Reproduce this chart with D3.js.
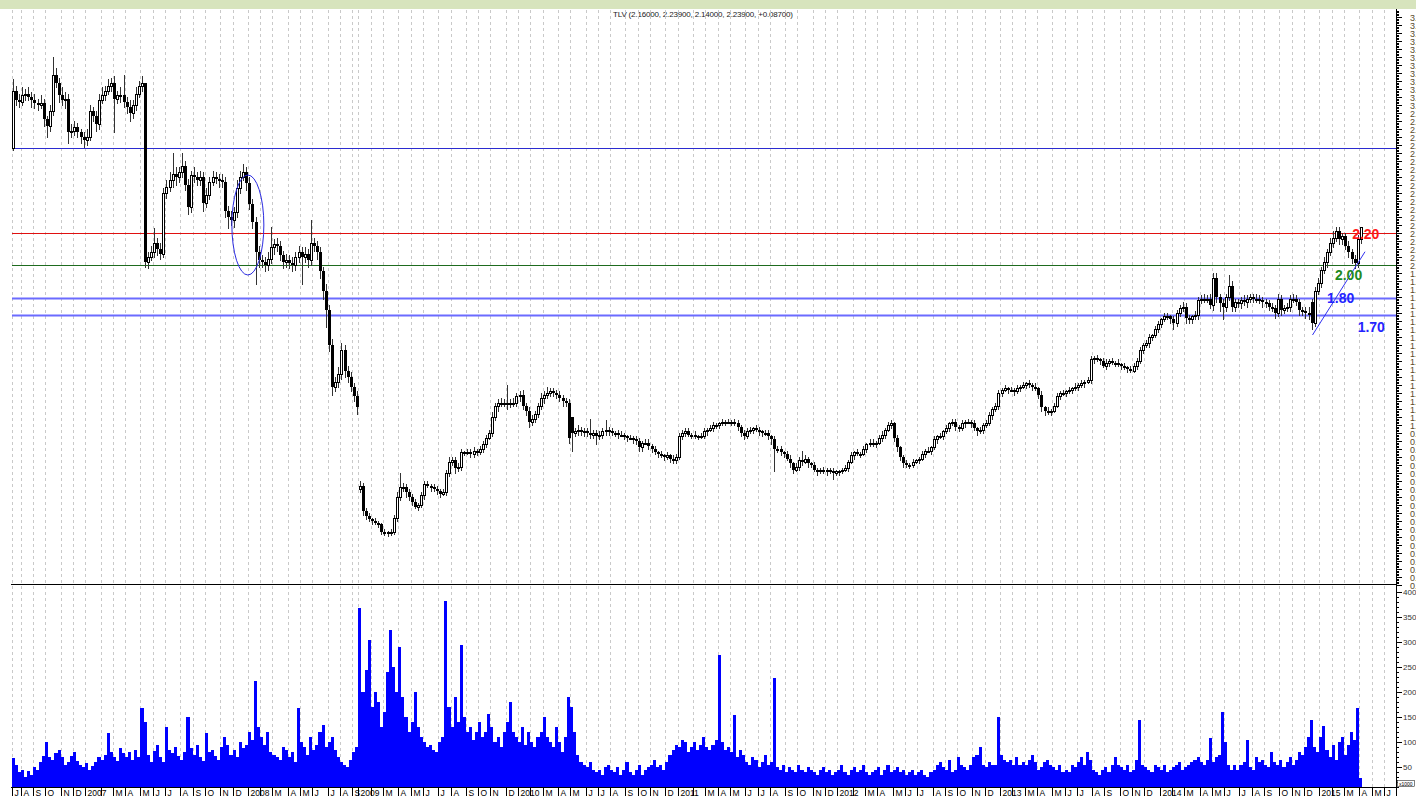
<!DOCTYPE html>
<html>
<head>
<meta charset="utf-8">
<script src="https://cdn.jsdelivr.net/npm/d3@7"></script>
<style>
  body { margin: 0; background: #fff; }
  svg { display: block; font-family: "Liberation Sans", Arial, sans-serif; }
</style>
</head>
<body>
<svg id="chart" width="1416" height="796"></svg>
<script>
// weekly bars, Mondays; trading stopped Sep 2008 - Jan 2009
const firstRun = [new Date(2006, 6, 17), new Date(2008, 8, 9)];
const secondRun = [new Date(2009, 0, 5), new Date(2015, 3, 7)];
const futureRun = [new Date(2015, 3, 13), new Date(2015, 5, 9)];
const monthLetters = ["J", "F", "M", "A", "M", "J", "J", "A", "S", "O", "N", "D"];

// weekly closes
const closes = [
  3.09, 3.03, 3.02, 3.06, 3.07, 3.05, 3.03, 3.01, 3.00, 3.01,
  2.91, 2.87, 2.96, 3.19, 3.14, 3.06, 3.03, 3.04, 2.83, 2.84,
  2.86, 2.83, 2.80, 2.78, 2.80, 2.96, 2.93, 2.88, 3.03, 3.06,
  3.09, 3.12, 3.14, 3.04, 3.06, 3.06, 3.02, 2.99, 2.95, 3.00,
  3.07, 3.12, 3.14, 2.02, 2.05, 2.08, 2.14, 2.10, 2.07, 2.45,
  2.49, 2.53, 2.57, 2.55, 2.58, 2.62, 2.50, 2.36, 2.56, 2.55,
  2.53, 2.55, 2.39, 2.44, 2.52, 2.55, 2.54, 2.53, 2.52, 2.34,
  2.30, 2.28, 2.33, 2.48, 2.55, 2.58, 2.51, 2.38, 2.27, 2.08,
  2.03, 2.02, 2.00, 2.04, 2.11, 2.13, 2.12, 2.06, 2.02, 2.03,
  2.01, 2.00, 2.05, 2.08, 2.05, 2.07, 2.03, 2.14, 2.12, 2.08,
  1.96, 1.84, 1.72, 1.50, 1.24, 1.27, 1.32, 1.47, 1.34, 1.30,
  1.24, 1.18, 1.11, 0.62, 0.46, 0.43, 0.41, 0.40, 0.39, 0.38,
  0.33, 0.33, 0.325, 0.33, 0.42, 0.55, 0.61, 0.61, 0.58, 0.55,
  0.52, 0.49, 0.50, 0.56, 0.63, 0.62, 0.61, 0.60, 0.59, 0.57,
  0.58, 0.70, 0.77, 0.78, 0.73, 0.74, 0.83, 0.83, 0.83, 0.82,
  0.84, 0.83, 0.85, 0.88, 0.92, 0.95, 1.05, 1.12, 1.14, 1.14,
  1.14, 1.13, 1.14, 1.14, 1.18, 1.19, 1.12, 1.09, 1.02, 1.04,
  1.07, 1.12, 1.17, 1.19, 1.20, 1.21, 1.20, 1.19, 1.17, 1.15,
  1.14, 0.92, 0.95, 0.96, 0.97, 0.96, 0.96, 0.95, 0.94, 0.95,
  0.93, 0.94, 0.96, 0.97, 0.96, 0.95, 0.95, 0.94, 0.94, 0.93,
  0.92, 0.92, 0.91, 0.90, 0.86, 0.89, 0.89, 0.87, 0.85, 0.83,
  0.82, 0.81, 0.80, 0.81, 0.79, 0.78, 0.80, 0.93, 0.95, 0.96,
  0.94, 0.94, 0.93, 0.93, 0.93, 0.96, 0.97, 0.98, 1.00, 1.00,
  1.01, 1.02, 1.02, 1.02, 1.02, 1.01, 0.99, 0.95, 0.93, 0.96,
  0.97, 0.98, 0.97, 0.96, 0.95, 0.95, 0.93, 0.91, 0.85, 0.85,
  0.83, 0.82, 0.79, 0.76, 0.72, 0.74, 0.78, 0.77, 0.79, 0.76,
  0.75, 0.72, 0.71, 0.72, 0.71, 0.72, 0.71, 0.70, 0.71, 0.71,
  0.72, 0.73, 0.77, 0.81, 0.83, 0.82, 0.82, 0.85, 0.88, 0.89,
  0.88, 0.89, 0.92, 0.94, 0.97, 1.00, 1.01, 0.92, 0.86, 0.80,
  0.76, 0.75, 0.75, 0.77, 0.78, 0.79, 0.82, 0.84, 0.84, 0.86,
  0.91, 0.93, 0.93, 0.96, 0.98, 1.01, 1.02, 0.99, 0.98, 1.01,
  1.02, 1.02, 1.01, 0.98, 0.96, 0.97, 1.00, 1.01, 1.06, 1.10,
  1.12, 1.20, 1.22, 1.23, 1.22, 1.22, 1.21, 1.23, 1.24, 1.25,
  1.26, 1.25, 1.24, 1.23, 1.19, 1.11, 1.09, 1.08, 1.09, 1.12,
  1.18, 1.20, 1.20, 1.21, 1.22, 1.23, 1.24, 1.25, 1.26, 1.27,
  1.28, 1.41, 1.42, 1.41, 1.40, 1.37, 1.39, 1.40, 1.39, 1.39,
  1.38, 1.37, 1.36, 1.35, 1.34, 1.37, 1.40, 1.47, 1.50, 1.51,
  1.55, 1.56, 1.60, 1.63, 1.66, 1.68, 1.68, 1.66, 1.64, 1.70,
  1.73, 1.74, 1.67, 1.66, 1.68, 1.69, 1.78, 1.79, 1.79, 1.79,
  1.75, 1.92, 1.80, 1.76, 1.74, 1.80, 1.87, 1.74, 1.77, 1.76,
  1.78, 1.77, 1.79, 1.80, 1.79, 1.79, 1.78, 1.77, 1.76, 1.74,
  1.73, 1.70, 1.79, 1.72, 1.73, 1.74, 1.79, 1.79, 1.77, 1.72,
  1.71, 1.70, 1.69, 1.64, 1.84, 1.89, 1.97, 2.02, 2.08, 2.14,
  2.17, 2.21, 2.16, 2.18, 2.12, 2.08, 2.04, 2.01, 2.16, 2.239
];

// opens that differ from the previous close (gaps)
const gapOpens = [[0, 2.73], [43, 3.14], [113, 0.60], [182, 1.05], [423, 1.77]];

// wick above the body, in cents
const upperWick = [
  7, 3, 4, 5, 3, 4, 3, 4, 3, 5,   3, 2, 4, 11, 4, 3, 5, 4, 3, 4,
  4, 3, 2, 3, 5, 4, 3, 3, 4, 5,   3, 4, 3, 4, 3, 5, 13, 3, 4, 3,
  4, 3, 4, 0, 3, 4, 9, 3, 4, 3,   4, 5, 13, 4, 3, 8, 3, 4, 3, 5,
  3, 4, 3, 4, 3, 4, 3, 3, 4, 3,   3, 4, 3, 5, 4, 5, 3, 4, 3, 3,
  4, 3, 3, 4, 13, 3, 4, 3, 3, 4,  3, 4, 3, 4, 3, 4, 3, 14, 3, 3,
  3, 3, 4, 3, 4, 3, 4, 4, 3, 3,   3, 2, 3, 3, 2, 2, 2, 1, 2, 1,
  1, 2, 1, 2, 2, 3, 9, 3, 2, 2,   2, 2, 1, 2, 2, 2, 1, 2, 2, 1,
  2, 2, 3, 2, 2, 2, 2, 1, 2, 2,   2, 1, 2, 2, 2, 2, 3, 2, 2, 3,
  2, 11, 2, 3, 2, 2, 3, 2, 2, 2,  2, 2, 3, 2, 4, 2, 2, 2, 2, 2,
  2, 2, 0, 2, 3, 2, 2, 2, 9, 2,   2, 2, 2, 6, 2, 2, 1, 2, 2, 1,
  1, 2, 1, 2, 2, 1, 2, 2, 1, 2,   1, 2, 1, 2, 1, 2, 2, 2, 2, 2,
  2, 1, 2, 1, 2, 2, 1, 2, 2, 1,   1, 2, 1, 2, 1, 2, 2, 1, 2, 2,
  2, 1, 2, 2, 1, 2, 2, 1, 2, 2,   2, 1, 2, 2, 1, 2, 2, 6, 2, 1,
  1, 2, 1, 1, 2, 1, 1, 2, 1, 1,   1, 2, 1, 2, 1, 2, 1, 2, 1, 2,
  2, 1, 2, 2, 1, 2, 2, 1, 2, 1,   1, 2, 1, 2, 1, 1, 2, 1, 2, 1,
  2, 1, 2, 1, 2, 1, 2, 2, 1, 2,   1, 2, 1, 2, 1, 2, 1, 2, 2, 1,
  2, 2, 1, 2, 1, 2, 1, 2, 1, 2,   1, 2, 1, 2, 1, 2, 1, 2, 1, 2,
  2, 1, 2, 1, 2, 1, 2, 1, 2, 1,   2, 2, 1, 2, 1, 2, 2, 1, 2, 1,
  2, 1, 2, 1, 2, 2, 2, 2, 1, 2,   2, 1, 2, 2, 1, 2, 2, 1, 2, 2,
  2, 3, 2, 2, 1, 2, 2, 2, 3, 2,   3, 3, 3, 2, 3, 2, 7, 3, 2, 2,
  2, 3, 2, 2, 2, 3, 2, 2, 2, 2,   2, 2, 3, 2, 2, 2, 2, 3, 2, 2,
  2, 3, 4, 2, 2, 3, 2, 3, 2, 3,   4, 3, 3, 2, 2, 3, 2, 2, 3, 0
];

// wick below the body, in cents
const lowerWick = [
  1, 3, 3, 2, 3, 2, 4, 3, 3, 2,   4, 7, 3, 2, 3, 4, 3, 5, 7, 3,
  3, 3, 4, 4, 3, 2, 3, 4, 3, 2,   3, 2, 3, 21, 3, 4, 3, 4, 5, 3,
  3, 2, 3, 3, 4, 2, 3, 4, 3, 2,   3, 3, 4, 5, 3, 3, 3, 4, 3, 3,
  3, 3, 5, 3, 3, 2, 3, 4, 3, 4,   7, 3, 4, 3, 3, 2, 4, 3, 4, 20,
  4, 3, 4, 3, 3, 4, 3, 3, 4, 3,   3, 4, 3, 3, 17, 3, 4, 3, 3, 4,
  4, 5, 11, 4, 5, 3, 3, 3, 4, 3,  3, 3, 4, 2, 2, 2, 1, 2, 1, 2,
  1, 2, 2, 1, 1, 2, 2, 2, 3, 2,   2, 1, 2, 1, 2, 1, 2, 1, 2, 2,
  1, 2, 2, 2, 3, 2, 2, 2, 1, 2,   2, 2, 1, 2, 2, 1, 2, 2, 3, 2,
  2, 3, 2, 2, 2, 3, 2, 3, 3, 2,   2, 2, 2, 3, 2, 2, 2, 2, 2, 3,
  2, 3, 11, 2, 2, 2, 3, 2, 2, 2,  5, 2, 2, 2, 2, 1, 2, 2, 1, 2,
  2, 1, 2, 2, 2, 2, 1, 2, 2, 1,   2, 1, 2, 1, 2, 2, 2, 1, 2, 2,
  1, 2, 1, 2, 1, 1, 2, 1, 2, 2,   2, 1, 2, 1, 2, 1, 2, 2, 2, 1,
  1, 2, 1, 2, 2, 1, 2, 3, 14, 2,  2, 2, 1, 2, 2, 1, 2, 2, 1, 2,
  1, 1, 2, 1, 1, 2, 1, 4, 1, 2,   1, 1, 2, 1, 2, 1, 2, 1, 2, 1,
  1, 2, 1, 2, 2, 1, 2, 2, 2, 2,   2, 1, 2, 1, 1, 2, 1, 2, 1, 2,
  1, 2, 1, 2, 1, 2, 1, 2, 2, 1,   2, 1, 2, 1, 2, 1, 2, 1, 1, 2,
  1, 2, 2, 1, 2, 1, 2, 1, 2, 1,   2, 1, 2, 1, 2, 2, 3, 1, 2, 1,
  1, 2, 1, 2, 1, 2, 1, 2, 1, 2,   1, 2, 2, 1, 2, 1, 2, 2, 1, 2,
  1, 2, 1, 2, 1, 1, 2, 1, 2, 1,   2, 2, 1, 2, 2, 1, 2, 2, 4, 2,
  2, 2, 3, 2, 2, 2, 3, 2, 2, 2,   2, 3, 3, 5, 8, 3, 2, 3, 3, 2,
  3, 2, 3, 2, 2, 2, 2, 3, 2, 2,   2, 3, 2, 3, 2, 2, 3, 2, 2, 3,
  2, 3, 3, 4, 2, 2, 3, 2, 3, 2,   3, 2, 3, 3, 2, 3, 3, 3, 2, 2
];

// weekly volume, thousands
const volumes = [
  68, 55, 40, 45, 30, 42, 35, 50, 45, 60,
  72, 100, 70, 65, 78, 85, 70, 55, 60, 72,
  80, 62, 55, 50, 58, 45, 52, 60, 70, 65,
  75, 118, 80, 70, 62, 88, 78, 70, 80, 65,
  85, 70, 168, 140, 75, 60, 82, 95, 70, 60,
  130, 85, 78, 90, 72, 65, 80, 150, 88, 75,
  95, 70, 62, 118, 80, 85, 72, 65, 90, 110,
  95, 75, 85, 70, 100, 88, 95, 120, 105, 222,
  130, 110, 95, 120, 80, 75, 70, 65, 90, 85,
  70, 80, 60, 168, 100, 90, 75, 110, 85, 95,
  120, 135, 90, 100, 110, 85, 70, 60, 55, 50,
  65, 80, 90, 368, 200, 244, 304, 170, 200, 180,
  130, 160, 240, 324, 250, 200, 290, 190, 150, 120,
  140, 200, 130, 110, 100, 90, 95, 85, 80, 100,
  110, 382, 170, 130, 190, 140, 294, 150, 120, 130,
  105, 120, 140, 110, 120, 156, 130, 100, 110, 90,
  120, 140, 180, 120, 110, 100, 130, 95, 120, 100,
  90, 110, 120, 150, 110, 100, 90, 130, 100, 80,
  110, 190, 170, 120, 75, 60, 55, 50, 60, 45,
  40, 45, 35, 50, 55, 45, 40, 50, 35, 45,
  60, 40, 35, 45, 55, 35, 45, 50, 55, 65,
  50, 55, 45, 60, 75, 85, 95, 90, 105, 100,
  80, 90, 100, 85, 95, 110, 90, 85, 95, 105,
  274, 100, 85, 90, 80, 154, 70, 85, 75, 60,
  55, 70, 65, 50, 60, 75, 55, 60, 228, 50,
  45, 55, 40, 50, 45, 40, 55, 45, 40, 50,
  45, 40, 35, 45, 50, 40, 45, 35, 40, 45,
  55, 40, 35, 45, 50, 40, 45, 55, 40, 35,
  40, 45, 50, 35, 45, 55, 40, 45, 50, 40,
  45, 35, 40, 45, 35, 40, 45, 35, 30, 40,
  45, 55, 60, 50, 45, 65, 40, 45, 70, 55,
  50, 45, 55, 70, 75, 90, 55, 50, 60, 55,
  55, 150, 75, 65, 60, 65, 55, 70, 55, 60,
  55, 65, 75, 60, 45, 50, 60, 65, 55, 50,
  45, 55, 40, 45, 40, 55, 50, 60, 70, 55,
  80, 65, 45, 40, 35, 45, 50, 40, 55, 70,
  55, 50, 45, 55, 40, 45, 65, 144, 55, 50,
  45, 40, 55, 50, 45, 55, 40, 45, 50, 55,
  60, 45, 50, 55, 60, 65, 70, 60, 55, 65,
  108, 60, 70, 75, 160, 100, 55, 45, 55, 45,
  55, 60, 105, 50, 45, 70, 60, 65, 55, 50,
  80, 60, 55, 65, 50, 60, 70, 55, 65, 80,
  75, 90, 110, 144, 90, 80, 110, 132, 85, 70,
  95, 65, 100, 110, 75, 95, 120, 105, 168, 28
];

// drawn support/resistance levels
const levels = [2.733, 2.20, 2.00, 1.794, 1.688];
const levelLabels = ["", "2.20", "2.00", "1.80", "1.70"];
const trendLine = [[423.3, 1.5625], [440.4, 2.083]];
const circled = [76.5, 2.25];
const volumeTicks = [50, 100, 150, 200, 250, 300, 350, 400];
const title = "TLV (2.16000, 2.23900, 2.14000, 2.23900, +0.08700)";

const svg = d3.select("#chart");

var weeks = d3.timeMonday.range(firstRun[0], firstRun[1])
  .concat(d3.timeMonday.range(secondRun[0], secondRun[1]));
var allWeeks = weeks.concat(d3.timeMonday.range(futureRun[0], futureRun[1]));

var x = d3.scaleLinear().domain([0, 450]).range([13, 1394.5]);
var y = d3.scaleLinear().domain([0, 3.6]).range([585, 9]);
var yv = d3.scaleLinear().domain([0, 400]).range([792, 592]);

var axisX = 1396.5,
    volBase = 787;

var openAt = new Map(gapOpens);

var bars = closes.map(function(c, i) {
  var o = openAt.has(i) ? openAt.get(i) : (i ? closes[i - 1] : c);
  return {
    i: i, o: o, c: c,
    h: Math.max(o, c) + upperWick[i] / 100,
    l: Math.min(o, c) - lowerWick[i] / 100,
    v: volumes[i]
  };
});

// top band + title
svg.append("rect").attr("x", 0).attr("y", 0).attr("width", 1416).attr("height", 9)
  .attr("fill", "#d7e4bd");
svg.append("text").attr("x", 613).attr("y", 17)
  .attr("font-size", 8).attr("fill", "#222").attr("textLength", 180)
  .text(title);

// month gridlines
var monthTicks = [];
allWeeks.forEach(function(d, i) {
  if (i === 0 || d.getMonth() !== allWeeks[i - 1].getMonth()) monthTicks.push({i: i, d: d});
});

var gx = function(i) { return Math.round(x(i) - 1.5) + 0.5; };

svg.append("g").selectAll("line")
  .data(monthTicks)
  .enter().append("line")
  .attr("x1", function(t) { return gx(t.i); })
  .attr("x2", function(t) { return gx(t.i); })
  .attr("y1", 10).attr("y2", volBase)
  .attr("stroke", "#c9c9c9").attr("stroke-dasharray", "3,3");

// level lines
var levelStyle = [
  {stroke: "#2b2bd0", width: 1},
  {stroke: "#e01010", width: 1},
  {stroke: "#1e6b1e", width: 1},
  {stroke: "#6b6bff", width: 2},
  {stroke: "#6b6bff", width: 2}
];
svg.append("g").selectAll("line")
  .data(levels)
  .enter().append("line")
  .attr("x1", 12).attr("x2", axisX)
  .attr("y1", function(p) { return Math.round(y(p)) + 0.5; })
  .attr("y2", function(p) { return Math.round(y(p)) + 0.5; })
  .attr("stroke", function(p, k) { return levelStyle[k].stroke; })
  .attr("stroke-width", function(p, k) { return levelStyle[k].width; });

// candles
var candles = svg.append("g").attr("shape-rendering", "crispEdges");
bars.forEach(function(b) {
  var cx = Math.round(x(b.i));
  candles.append("line")
    .attr("x1", cx + 0.5).attr("x2", cx + 0.5)
    .attr("y1", Math.round(y(b.h))).attr("y2", Math.round(y(b.l)) + 1)
    .attr("stroke", "#333");
  var top = Math.round(y(Math.max(b.o, b.c))),
      bot = Math.round(y(Math.min(b.o, b.c)));
  if (b.c >= b.o) {
    candles.append("rect")
      .attr("x", cx - 0.5).attr("y", top + 0.5)
      .attr("width", 2).attr("height", Math.max(bot - top, 1))
      .attr("fill", "#fff").attr("stroke", "#000");
  } else {
    candles.append("rect")
      .attr("x", cx - 1).attr("y", top)
      .attr("width", 3).attr("height", Math.max(bot - top, 2))
      .attr("fill", "#000");
  }
});

// volume bars
svg.append("g").attr("shape-rendering", "crispEdges")
  .selectAll("rect")
  .data(bars)
  .enter().append("rect")
  .attr("x", function(b) { return Math.round(x(b.i) - 1.5); })
  .attr("width", function(b) { return Math.round(x(b.i + 1) - 1.5) - Math.round(x(b.i) - 1.5); })
  .attr("y", function(b) { return Math.min(yv(b.v), volBase); })
  .attr("height", function(b) { return Math.max(volBase - yv(b.v), 0); })
  .attr("fill", "#0000ff");

// circle around the 2008 breakdown
svg.append("ellipse")
  .attr("cx", x(circled[0])).attr("cy", y(circled[1]))
  .attr("rx", 16).attr("ry", 50)
  .attr("fill", "none").attr("stroke", "#2a2ae0");

// trend line
svg.append("line")
  .attr("x1", x(trendLine[0][0])).attr("y1", y(trendLine[0][1]))
  .attr("x2", x(trendLine[1][0])).attr("y2", y(trendLine[1][1]))
  .attr("stroke", "#3030f0");

// level labels
var labelPos = [null, [436.2, 6], [430.6, 15], [428.0, 5], [438.0, 17]];
var labelColor = [null, "#ff1a1a", "#1e8a1e", "#2424ff", "#2424ff"];
levels.forEach(function(p, k) {
  if (!levelLabels[k]) return;
  svg.append("text")
    .attr("x", x(labelPos[k][0])).attr("y", y(p) + labelPos[k][1])
    .attr("font-size", 14).attr("font-weight", "bold")
    .attr("fill", labelColor[k])
    .text(levelLabels[k]);
});

// panel separator and right axis
svg.append("line").attr("x1", 11).attr("x2", axisX).attr("y1", 584.5).attr("y2", 584.5)
  .attr("stroke", "#000");
svg.append("line").attr("x1", 11).attr("x2", axisX).attr("y1", volBase + 0.5).attr("y2", volBase + 0.5)
  .attr("stroke", "#000");
svg.append("line").attr("x1", axisX).attr("x2", axisX).attr("y1", 9).attr("y2", 796)
  .attr("stroke", "#000");

var ax = svg.append("g").attr("shape-rendering", "crispEdges");
d3.range(0, 361).forEach(function(k) {
  var p = k / 100, yy = Math.round(y(p)) + 0.5;
  if (yy < 10) return;
  var major = k % 5 === 0;
  ax.append("line").attr("x1", axisX).attr("x2", axisX + (major ? 5 : 2))
    .attr("y1", yy).attr("y2", yy).attr("stroke", "#000");
  if (major) {
    ax.append("text").attr("x", 1410).attr("y", yy + 3)
      .attr("font-size", 9).attr("fill", "#5a4a2a")
      .text(p.toFixed(2));
  }
});

d3.range(10, 401, 10).forEach(function(v) {
  var yy = Math.round(yv(v)) + 0.5;
  var major = v % 50 === 0;
  ax.append("line").attr("x1", axisX).attr("x2", axisX + (major ? 5 : 2))
    .attr("y1", yy).attr("y2", yy).attr("stroke", "#000");
});
svg.append("g").selectAll("text")
  .data(volumeTicks)
  .enter().append("text")
  .attr("x", 1403).attr("y", function(v) { return yv(v) + 3; })
  .attr("font-size", 8).attr("fill", "#333")
  .text(function(v) { return v; });
svg.append("rect").attr("x", 1397.5).attr("y", 780.5).attr("width", 17).attr("height", 6)
  .attr("fill", "#fff").attr("stroke", "#000").attr("stroke-width", 0.5);
svg.append("text").attr("x", 1399).attr("y", 785.5).attr("font-size", 5).attr("fill", "#000")
  .text("x1000");

// month axis
var xa = svg.append("g");
monthTicks.forEach(function(t) {
  var m = t.d.getMonth();
  xa.append("line").attr("x1", gx(t.i)).attr("x2", gx(t.i))
    .attr("y1", volBase).attr("y2", 796).attr("stroke", "#000");
  if (m === 1) return;
  xa.append("text").attr("x", gx(t.i) + 2).attr("y", 796)
    .attr("font-size", 8.5).attr("fill", "#000")
    .text(m === 0 ? t.d.getFullYear() : monthLetters[m]);
});
</script>
</body>
</html>
